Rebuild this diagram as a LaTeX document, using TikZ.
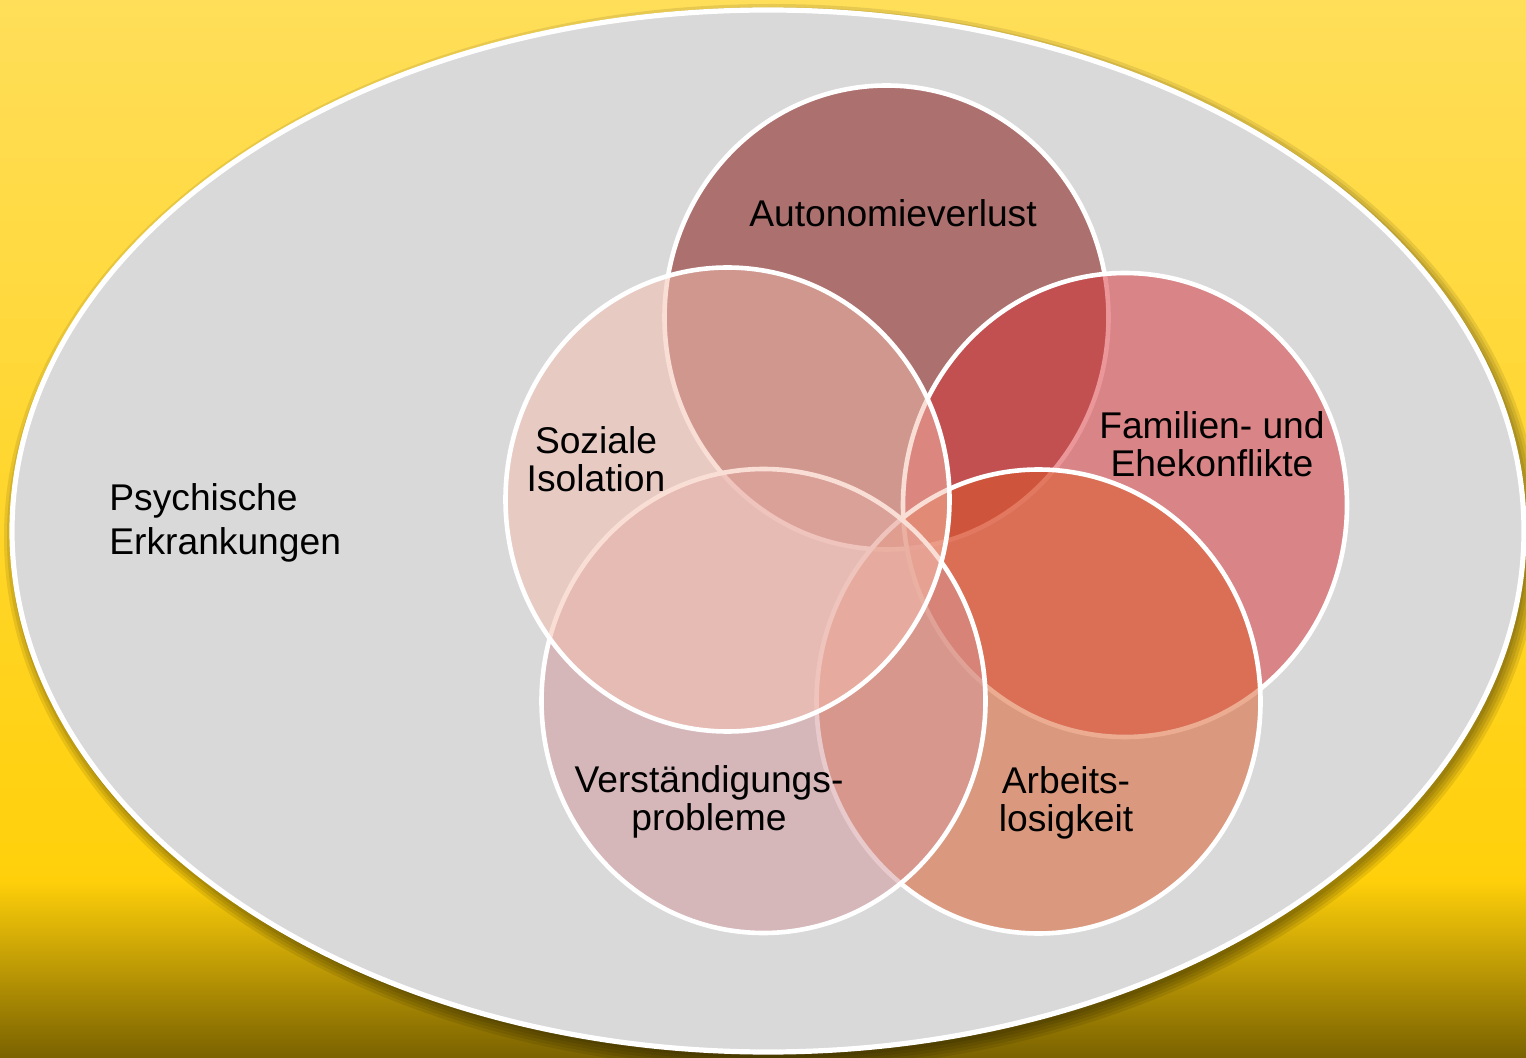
\documentclass[tikz,border=0pt]{standalone}
\usepackage{fontspec}
\setmainfont{Liberation Sans}
\usetikzlibrary{shapes.geometric}
\definecolor{bgtop}{RGB}{255,222,89}
\definecolor{bgmid}{RGB}{255,208,10}
\definecolor{bgbot}{RGB}{122,98,0}
\definecolor{ellgray}{RGB}{217,217,217}
\definecolor{cAuto}{RGB}{129,9,5}
\definecolor{cFam}{RGB}{217,49,53}
\definecolor{cArb}{RGB}{219,91,39}
\definecolor{cVer}{RGB}{213,151,155}
\definecolor{cSoz}{RGB}{245,191,175}
\tikzset{
  venn/.style={shape=ellipse, inner sep=0pt, minimum width=222pt, minimum height=232pt,
    draw=white, line width=2.3pt, fill opacity=0.5, draw opacity=1},
  lbl/.style={inner sep=0pt, align=center, text=black, font=\fontsize{18.6}{19}\selectfont},
  outer/.style={shape=ellipse, inner sep=0pt, minimum width=756pt, minimum height=521pt,
    draw=white, line width=2.6pt, fill=ellgray},
  shadowring/.style={shape=ellipse, inner sep=0pt, fill=black, fill opacity=0.09, draw=none}
}
\begin{document}
\begin{tikzpicture}[x=0.5pt,y=-0.5pt]
\useasboundingbox (0,0) rectangle (1526,1058);
% background
\fill[top color=bgtop, bottom color=bgmid] (0,0) rectangle (1526,882);
\fill[top color=bgmid, bottom color=bgbot] (0,880) rectangle (1526,1058);
% shadow of the big ellipse
\foreach \r in {12,9,6,3,0} {
  \node[shadowring, minimum width=756pt+\r pt, minimum height=521pt+\r pt] at (772,537) {};
}
% big ellipse
\node[outer] (psy) at (768,531) {};
% circles
\node[venn, fill=cAuto] (auto) at (886.5,317.5) {};
\node[venn, fill=cFam]  (fam)  at (1125,505) {};
\node[venn, fill=cArb]  (arb)  at (1038.5,701.5) {};
\node[venn, fill=cVer]  (ver)  at (763.5,701) {};
\node[venn, fill=cSoz]  (soz)  at (727.5,499.5) {};
% labels
\node[lbl] (tauto) at (893,213) {Autonomieverlust};
\node[lbl] (tfam)  at (1212,444) {Familien- und\\Ehekonflikte};
\node[lbl] (tarb)  at (1066,803) {Arbeits-\\losigkeit};
\node[lbl] (tver)  at (709,802) {Verständigungs-\\probleme};
\node[lbl] (tsoz)  at (596,459) {Soziale\\Isolation};
\node[lbl, align=left, anchor=west, font=\fontsize{18.6}{22}\selectfont] (tpsy) at (109,523) {Psychische\\Erkrankungen};
\end{tikzpicture}
\end{document}
